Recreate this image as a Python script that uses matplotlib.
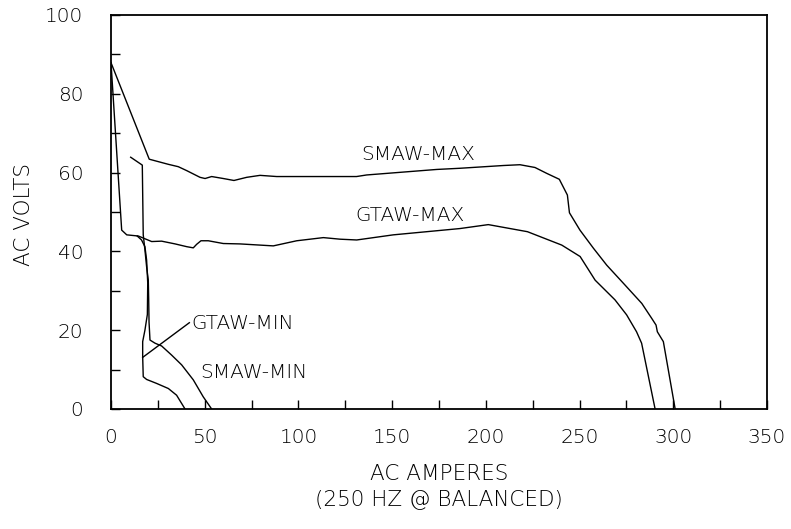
import matplotlib
matplotlib.use("Agg")
from matplotlib import pyplot as plt
from matplotlib.ticker import MultipleLocator

# curves (amps, volts)
smawMaxA = [0, 20.4, 30.6, 35.9, 40.4, 47.5, 50.2, 53.7, 59.9, 65.6, 72.4, 79.5,
            88.4, 131, 136.4, 173.8, 186.2, 209.4, 218.2, 226.2, 232.5, 239.2,
            243.5, 244.6, 250.2, 257.4, 264.5, 273.4, 283.2, 288.5, 290.8,
            291.5, 294.7, 301]
smawMaxV = [87.9, 63.4, 62.1, 61.5, 60.5, 58.8, 58.5, 59.0, 58.5, 58.0, 58.8, 59.3,
            59.0, 59.0, 59.4, 60.8, 61.1, 61.8, 62.0, 61.3, 59.8, 58.3,
            54.3, 49.8, 45.4, 40.8, 36.5, 31.9, 26.8, 23.0, 21.3,
            19.6, 17.1, 0]

gtawMaxA = [0, 5.7, 8.4, 14.6, 21.7, 27.0, 34.2, 40.4, 43.9, 45.7, 48.0, 51.9,
            59.9, 68.8, 86.6, 99.1, 113.3, 122.2, 131.1, 150.6, 186.2, 201.3,
            222.2, 240.5, 250.3, 258.3, 268.9, 275.1, 280.4, 283.1, 290.3]
gtawMaxV = [87.9, 45.4, 44.2, 43.9, 42.5, 42.6, 41.9, 41.2, 40.9, 41.8, 42.7, 42.7,
            42.0, 41.9, 41.4, 42.7, 43.5, 43.1, 42.9, 44.2, 45.8, 46.8,
            45.0, 41.6, 38.7, 32.7, 27.7, 23.9, 19.6, 16.7, 0]

smawMinA = [10.5, 16.7, 17.2, 18.1, 19.0, 19.9, 20.1, 20.3, 20.8, 23.5, 27.0,
            32.3, 37.7, 43.9, 49.2, 53.7]
smawMinV = [63.9, 61.9, 44.2, 40.4, 36.1, 32.7, 28.0, 22.0, 17.5, 16.7, 16.0,
            13.7, 11.2, 7.4, 3.1, 0]

gtawMinA = [14.0, 16.3, 18.1, 19.0, 19.6, 19.4, 18.1, 16.9, 16.9, 17.2, 19.0,
            24.3, 30.6, 35.0, 39.5]
gtawMinV = [43.9, 42.9, 41.2, 37.8, 32.0, 24.0, 20.0, 17.1, 13.3, 8.2, 7.5,
            6.5, 5.2, 3.5, 0]

plt.rcParams['font.family'] = ['DejaVu Sans']
plt.rcParams['font.weight'] = 'light'
fs = 14.5
labelFs = 15.5

fig = plt.figure(figsize=(7.91, 5.29), dpi=100)
ax = fig.add_axes([111 / 791, 1 - 409 / 529, 656 / 791, 394 / 529])

for a, v in [(smawMaxA, smawMaxV), (gtawMaxA, gtawMaxV),
             (smawMinA, smawMinV), (gtawMinA, gtawMinV)]:
    ax.plot(a, v, color='black', linewidth=1.0)

ax.set_xlim(0, 350)
ax.set_ylim(0, 100)
ax.xaxis.set_major_locator(MultipleLocator(50))
ax.xaxis.set_minor_locator(MultipleLocator(25))
ax.yaxis.set_major_locator(MultipleLocator(20))
ax.yaxis.set_minor_locator(MultipleLocator(10))
ax.tick_params(which='both', direction='in', length=6.5, width=1.0,
               top=False, right=False, labelsize=fs)
ax.tick_params(axis='x', pad=13.5)
ax.tick_params(axis='y', pad=20)
for s in ax.spines.values():
    s.set_linewidth(1.3)

# curve labels
ax.text(164, 64.6, 'SMAW-MAX', fontsize=fs, ha='center', va='center')
ax.text(159.5, 49.2, 'GTAW-MAX', fontsize=fs, ha='center', va='center')
ax.text(43, 21.6, 'GTAW-MIN', fontsize=fs, ha='left', va='center')
ax.text(47.5, 9.3, 'SMAW-MIN', fontsize=fs, ha='left', va='center')
ax.plot([41.8, 16.9], [21.9, 13.1], color='black', linewidth=1.0)

fig.text(439 / 791, 1 - 474 / 529, 'AC AMPERES', fontsize=labelFs,
         ha='center', va='center')
fig.text(439 / 791, 1 - 500 / 529, '(250 HZ @ BALANCED)', fontsize=labelFs,
         ha='center', va='center')
fig.text(24 / 791, 1 - 214 / 529, 'AC VOLTS', fontsize=labelFs, rotation=90,
         ha='center', va='center')

fig.savefig('out.png', dpi=100)
